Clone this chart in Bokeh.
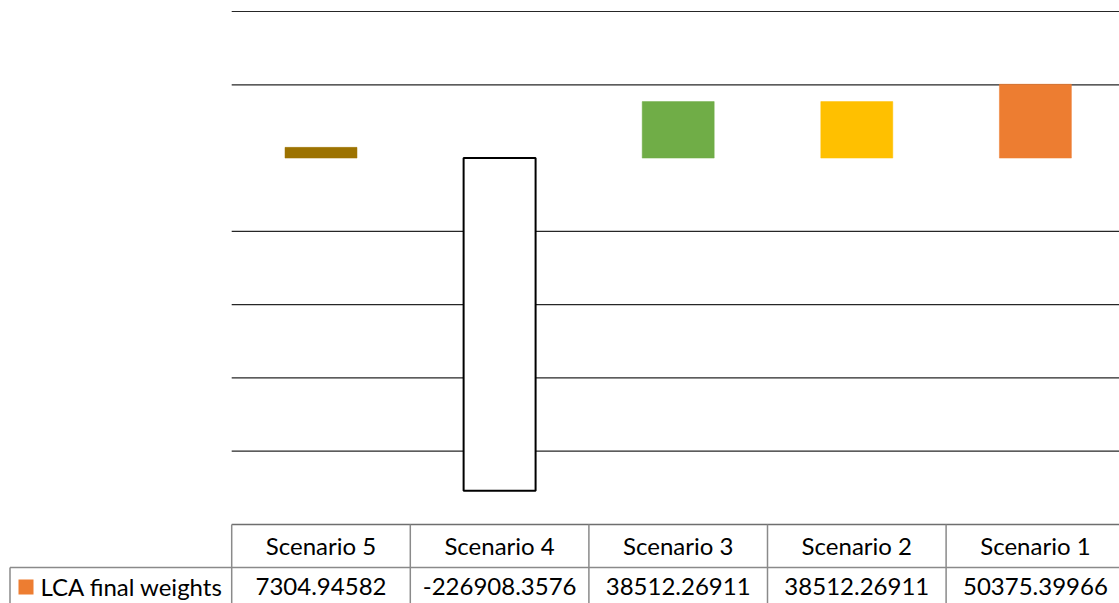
from bokeh.plotting import figure
from bokeh.models import Range1d
from bokeh.core.properties import value
from bokeh.embed import file_html
from bokeh.resources import INLINE

# ---- data ----
categories = ["Scenario 5", "Scenario 4", "Scenario 3", "Scenario 2", "Scenario 1"]
lca_weights = [7304.94582, -226908.3576, 38512.26911, 38512.26911, 50375.39966]
value_labels = ["7304.94582", "-226908.3576", "38512.26911", "38512.26911", "50375.39966"]
series_name = "LCA final weights"
bar_colors = ["#9C7200", "#FFFFFF", "#70AD47", "#FFC000", "#ED7D31"]
legend_color = "#ED7D31"
grid_values = [100000, 50000, -50000, -100000, -150000, -200000]
table_top_value = -250000

# ---- layout (pixel geometry of the canvas) ----
W, H = 1119, 603
PLOT_LEFT = 231.2
CAT_W = 178.6
PPU = 513.0 / 350000.0          # pixels per value unit
Y_TOP = 100000 + 11 / PPU       # value at canvas top


def py(pix):                    # canvas pixel row -> value
    return Y_TOP - pix / PPU


def px(pix):                    # canvas pixel column -> category units
    return (pix - PLOT_LEFT) / CAT_W


p = figure(width=W, height=H, output_backend="svg", toolbar_location=None,
           x_range=Range1d(px(0), px(W)), y_range=Range1d(py(H), py(0)),
           min_border=0, min_border_left=0, min_border_right=0,
           min_border_top=0, min_border_bottom=0)
p.axis.visible = False
p.grid.visible = False
p.outline_line_color = None
p.background_fill_color = "white"
p.border_fill_color = "white"

n = len(categories)
centers = [i + 0.5 for i in range(n)]

# gridlines
p.segment(x0=[0] * len(grid_values), x1=[n] * len(grid_values),
          y0=grid_values, y1=grid_values, line_color="#262626", line_width=1.2)

# bars
line_colors = [c if c != "#FFFFFF" else "#000000" for c in bar_colors]
line_widths = [0.5 if c != "#FFFFFF" else 2 for c in bar_colors]
p.vbar(x=centers, top=lca_weights, bottom=0, width=0.403,
       fill_color=bar_colors, line_color=line_colors, line_width=line_widths)

# data table
tcol = "#8a8a8a"
row_sep = py(567)
bottom = py(H + 2)
x_left = px(9.5)
# top border
p.segment(x0=[0], x1=[n], y0=[table_top_value], y1=[table_top_value],
          line_color="#6e6e6e", line_width=1.5)
# row separator
p.segment(x0=[x_left], x1=[n], y0=[row_sep], y1=[row_sep],
          line_color=tcol, line_width=1.5)
# verticals
vx = list(range(n))
p.segment(x0=vx, x1=vx, y0=[table_top_value] * n, y1=[bottom] * n,
          line_color=tcol, line_width=1.5)
p.segment(x0=[x_left], x1=[x_left], y0=[row_sep], y1=[bottom],
          line_color=tcol, line_width=1.5)

font = value("Lato")
fs = "24px"
p.text(x=centers, y=[py(545)] * n, text=categories, text_align="center",
       text_baseline="middle", text_font=font, text_font_size=fs, text_color="#000000")
p.text(x=centers, y=[py(585.5)] * n, text=value_labels, text_align="center",
       text_baseline="middle", text_font=font, text_font_size=fs, text_color="#000000")

# legend key
p.scatter(x=[px(25.5)], y=[py(586.5)], marker="square", size=15,
          fill_color=legend_color, line_color=None)
p.text(x=[px(40)], y=[py(585.5)], text=[series_name], text_align="left",
       text_baseline="middle", text_font=font, text_font_size=fs, text_color="#000000")

open("out.html", "w").write(file_html(p, INLINE))
